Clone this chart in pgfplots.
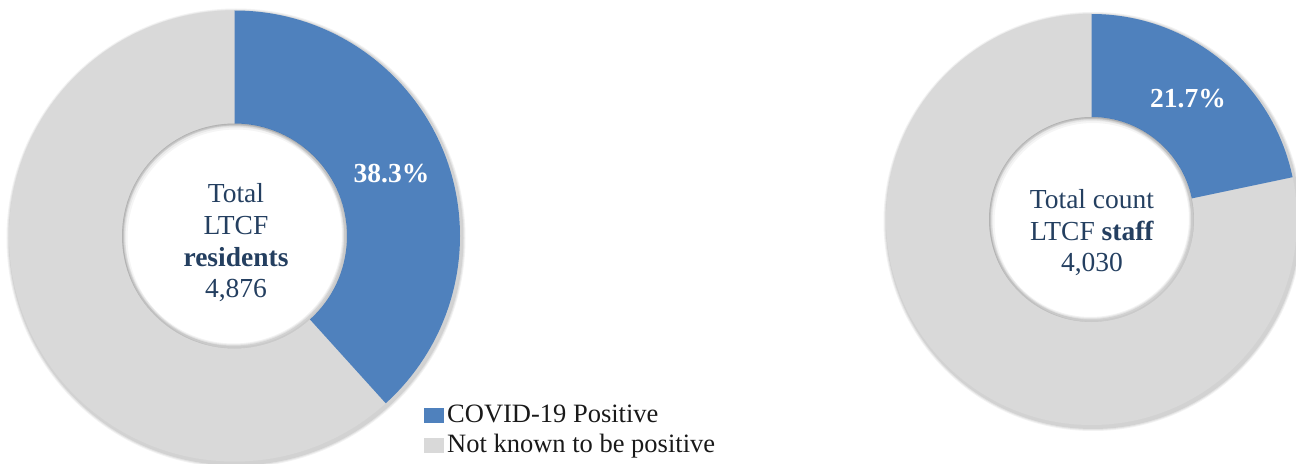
\documentclass[border=0pt]{standalone}
\usepackage{pgfplots}
\pgfplotsset{compat=1.18}
\usepackage{pgfplotstable}
\usepackage{fontspec}
\setmainfont{Liberation Serif}

\definecolor{posblue}{HTML}{4F81BD}
\definecolor{negrey}{HTML}{D9D9D9}
\definecolor{navy}{HTML}{243F60}

% share of COVID-19 positive (%)
\pgfplotstableread{
group value
residents 38.3
staff 21.7
}\shares

\pgfplotstablegetelem{0}{value}\of\shares \let\resval\pgfplotsretval
\pgfplotstablegetelem{1}{value}\of\shares \let\staffval\pgfplotsretval

% donut: center x, center y, outer r, inner r, percent
\newcommand{\donut}[5]{\pgfplotsextra{%
  \pgfmathsetmacro{\endang}{90-3.6*#5}%
  % soft shadow
  \foreach \k/\op in {4/0.05,3/0.06,2/0.08}{
    \fill[black,opacity=\op,even odd rule] (axis cs:#1,#2) ++(1.5bp,-2bp) circle[radius=#3bp+\k bp]
      (axis cs:#1,#2) ++(-1bp,1bp) circle[radius=#4bp-\k bp];
  }
  \fill[negrey,even odd rule] (axis cs:#1,#2) circle[radius=#3bp] (axis cs:#1,#2) circle[radius=#4bp];
  \fill[posblue] (axis cs:#1,#2) ++(90:#3bp) arc[start angle=90,end angle=\endang,radius=#3bp]
    -- ++(\endang:{-(#3-#4)*1bp}) arc[start angle=\endang,end angle=90,radius=#4bp] -- cycle;
  % inner shadow of the hole
  \begin{scope}
    \clip (axis cs:#1,#2) circle[radius=#4bp];
    \foreach \k/\op in {6/0.04,4/0.05,2/0.07}{
      \fill[black,opacity=\op,even odd rule] (axis cs:#1,#2) circle[radius=#4bp+2bp]
        (axis cs:#1,#2) ++(1.5bp,-2bp) circle[radius=#4bp-\k bp+2bp];
    }
  \end{scope}
}}

\begin{document}
\begin{tikzpicture}
\useasboundingbox (0,0) rectangle (1296bp,464bp);
\begin{axis}[
  at={(0,0)}, anchor=origin,
  x=1bp, y=1bp,
  xmin=0, xmax=1296, ymin=0, ymax=464,
  hide axis, clip=false,
]
\donut{234.5}{228}{225.5}{112.5}{\resval}
\donut{1091.5}{244.5}{205.5}{102.5}{\staffval}

\pgfplotsextra{%
\fontsize{27.5bp}{32bp}\selectfont
\node[white,font=\bfseries,anchor=base] at (axis cs:391.5,281) {\resval\%};
\node[white,font=\bfseries,anchor=base] at (axis cs:1188,356) {\staffval\%};

\node[navy,anchor=base] at (axis cs:236,261) {Total};
\node[navy,anchor=base] at (axis cs:236,229) {LTCF};
\node[navy,anchor=base,font=\bfseries] at (axis cs:236,197) {residents};
\node[navy,anchor=base] at (axis cs:236,166) {4,876};

\node[navy,anchor=base] at (axis cs:1092,255) {Total count};
\node[navy,anchor=base] at (axis cs:1092,223) {LTCF \textbf{staff}};
\node[navy,anchor=base] at (axis cs:1092,192) {4,030};

% legend
\fontsize{26.5bp}{32bp}\selectfont
\fill[posblue] (axis cs:424,41) rectangle (axis cs:444,56);
\fill[negrey] (axis cs:424,11) rectangle (axis cs:444,26);
\node[black!90,anchor=base west,inner sep=0pt] at (axis cs:447,41) {COVID-19 Positive};
\node[black!90,anchor=base west,inner sep=0pt] at (axis cs:447,11) {Not known to be positive};
}
\end{axis}
\end{tikzpicture}
\end{document}
